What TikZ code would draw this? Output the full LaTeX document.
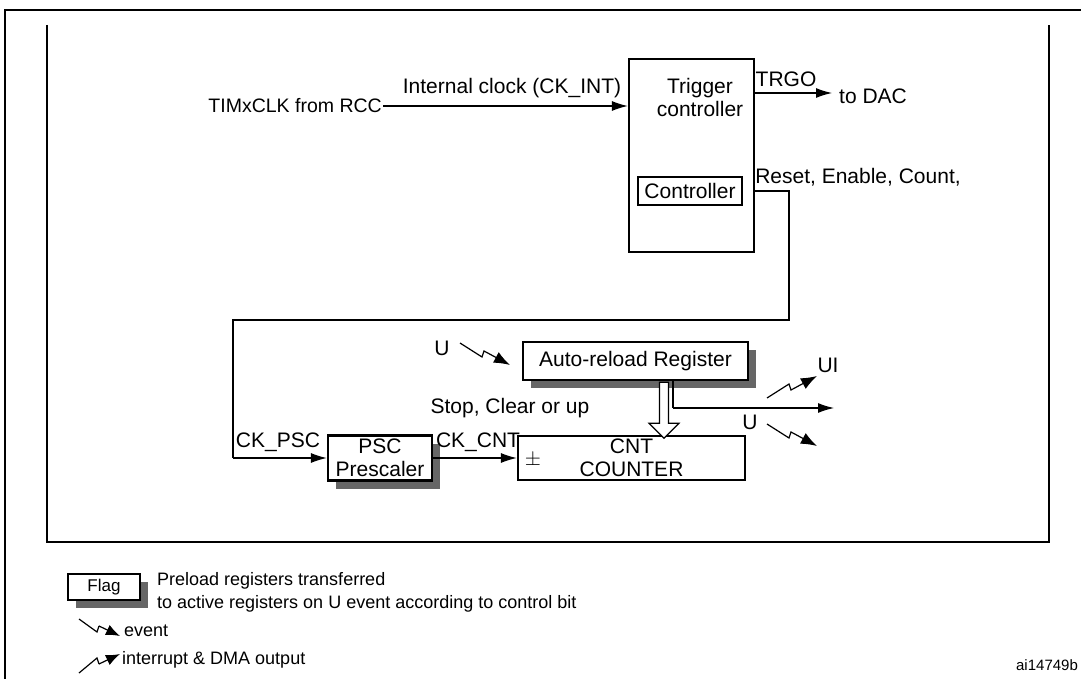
\documentclass[tikz,border=0pt]{standalone}
\usepackage{fontspec}
\setmainfont{Liberation Sans}
\usetikzlibrary{positioning,arrows.meta,shapes.arrows,shadows}
\begin{document}
\begin{tikzpicture}[x=1pt,y=-1pt,font=\fontsize{21}{23}\selectfont,
    blok/.style={draw,line width=2.2pt,inner sep=0pt,align=center},
    stin/.style={blok,fill=white,drop shadow={shadow xshift=8pt,shadow yshift=-8pt,fill=black!60,opacity=1}},
    sipka/.style={-{Latex[length=16pt,width=10pt]},line width=1.2pt},
    txt/.style={inner sep=1pt}]
  \def\evt(#1){\draw[-{Latex[length=16pt,width=12pt]},line width=1.2pt] (#1) -- ++(22,14) -- ++(2,-6) -- ++(26,14)}
  \def\intr(#1){\draw[-{Latex[length=16pt,width=12pt]},line width=1.2pt] (#1) -- ++(22,-14) -- ++(2,6) -- ++(26,-14)}
  \useasboundingbox (0,0) rectangle (1081,679);
  \draw[line width=1.2pt] (5,679) |- (1081,10);
  \draw[line width=1.8pt] (47,25) |- (1049,542) -- (1049,25);

  % trigger part
  \node[blok,minimum width=125pt,minimum height=193pt] (trg) at (691.5,155.5) {};
  \node[txt,align=center] (trgt) at (700,97) {Trigger\\controller};
  \node[blok,line width=1.8pt,minimum width=104pt,minimum height=28pt] (ctl) at (690,191) {Controller};
  \node[txt,anchor=east,font=\fontsize{19.5}{21}\selectfont] (clk) at (383,106) {TIMxCLK from RCC};
  \node[txt] at (512,88) {Internal clock (CK\_INT)};
  \draw[sipka] (clk.east) -- (trg.west |- clk.east);
  \coordinate (dac) at (832,93);
  \draw[sipka] (trg.east |- dac) -- (dac);
  \node[txt] at (786,79) {TRGO};
  \node[txt] at (873,96) {to DAC};
  \node[txt] at (858,177) {Reset, Enable, Count,};

  % counter part
  \node[stin,minimum width=225pt,minimum height=38pt] (arr) at (635.5,361) {Auto-reload Register};
  \node[blok,minimum width=227pt,minimum height=44pt] (cnt) at (631.5,458) {CNT\\COUNTER};
  \node[txt] at (533,460) {$\pm$};
  \node[stin,minimum width=104pt,minimum height=45pt] (psc) at (380,458) {PSC\\Prescaler};
  \coordinate (b1) at (789,320);
  \coordinate (b2) at (233,320);
  \draw[line width=1.2pt] (trg.east |- ctl.east) -| (b1) -- (b2) -- (b2 |- psc.west);
  \draw[sipka] (b2 |- psc.west) -- (psc.west);
  \node[txt] at (278,442) {CK\_PSC};
  \draw[sipka] (psc.east) -- (cnt.west |- psc.east);
  \node[txt] at (478,442) {CK\_CNT};
  \node[txt] at (510,408) {Stop, Clear or up};
  \node[single arrow,draw,line width=1.2pt,fill=white,shape border rotate=270,
        minimum width=30pt,single arrow head extend=6pt,single arrow head indent=0pt,
        minimum height=56pt,inner sep=2pt] (dbl) at (664,408) {};
  \coordinate (uo) at (834,408);
  \coordinate (us) at (673,408);
  \draw[line width=1.2pt] (arr.south -| us) -- (us);
  \draw[sipka] (us) -- (uo);
  \node[txt] (u1) at (442,348) {U};
  \evt(460,343);
  \node[txt] at (828,365) {UI};
  \intr(767,398);
  \node[txt] at (750,422) {U};
  \evt(767,424);

  % legend
  \node[stin,line width=1.8pt,minimum width=72pt,minimum height=26pt,font=\fontsize{17}{19}\selectfont] (flag) at (104,587) {Flag};
  \node[txt,anchor=north west,align=left,font=\fontsize{18}{23}\selectfont] at (156,571) {Preload registers transferred\\to active registers on U event according to control bit};
  \draw[line width=1.2pt] (79,619) -- (97,632) -- (99,626);
  \draw[-{Latex[length=14pt,width=11pt]},line width=1.2pt] (99,626) -- (120,636);
  \node[txt,anchor=west,font=\fontsize{18}{20}\selectfont] at (123,631) {event};
  \draw[line width=1.2pt] (79,673) -- (97,658) -- (99,664);
  \draw[-{Latex[length=14pt,width=11pt]},line width=1.2pt] (99,664) -- (120,654);
  \node[txt,anchor=west,font=\fontsize{18}{20}\selectfont] at (121,660) {interrupt \& DMA output};
  \node[txt,font=\fontsize{15}{17}\selectfont] at (1047,665) {ai14749b};
\end{tikzpicture}
\end{document}
